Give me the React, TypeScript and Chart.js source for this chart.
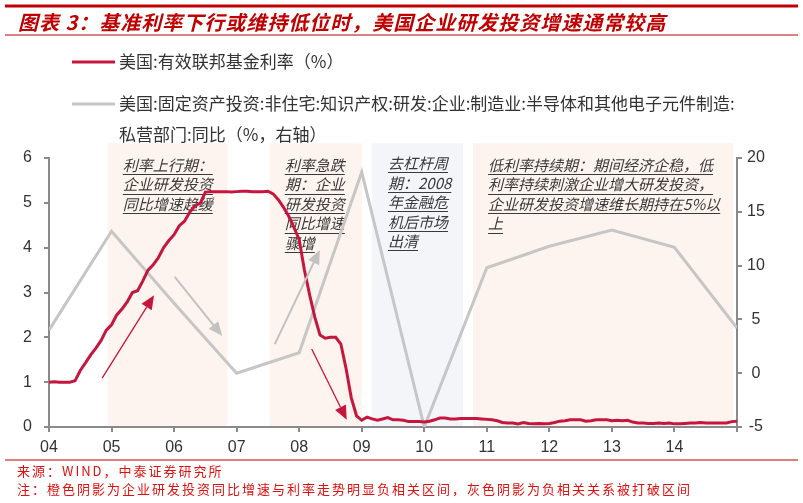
import { useEffect, useRef } from "react";
import { Chart, registerables } from "chart.js";

Chart.register(...registerables);

// 美国有效联邦基金利率，月度，2004-01 ~ 2015-01（%）
const rateValues: number[] = [
  1.0, 1.01, 1.0, 1.0, 1.0, 1.03, 1.26, 1.43, 1.61, 1.76, 1.93, 2.16,
  2.28, 2.5, 2.63, 2.79, 3.0, 3.04, 3.26, 3.5, 3.62, 3.78, 4.0, 4.16,
  4.29, 4.49, 4.59, 4.79, 4.94, 4.99, 5.24, 5.25, 5.25, 5.25, 5.25, 5.24,
  5.25, 5.26, 5.26, 5.25, 5.25, 5.25, 5.26, 5.2, 5.07, 4.9, 4.7, 4.45,
  4.18, 3.5, 2.95, 2.45, 2.05, 1.98, 2.0, 2.0, 1.85, 1.3, 0.65, 0.25,
  0.15, 0.22, 0.18, 0.15, 0.18, 0.21, 0.16, 0.16, 0.15, 0.12, 0.12, 0.12,
  0.11, 0.13, 0.16, 0.2, 0.2, 0.18, 0.18, 0.19, 0.19, 0.19, 0.19, 0.18,
  0.17, 0.16, 0.14, 0.1, 0.09, 0.09, 0.07, 0.1, 0.08, 0.07, 0.08, 0.07,
  0.08, 0.1, 0.13, 0.14, 0.16, 0.16, 0.16, 0.13, 0.14, 0.16, 0.16, 0.16,
  0.14, 0.15, 0.14, 0.15, 0.11, 0.09, 0.09, 0.08, 0.08, 0.09, 0.08, 0.09,
  0.07, 0.07, 0.08, 0.09, 0.09, 0.1, 0.09, 0.09, 0.09, 0.09, 0.09, 0.12,
  0.13,
];
const rateStartYear = 2004;

// 半导体及电子元件制造业私营部门研发投资同比（%，右轴），年度
const rdYears = [2004, 2005, 2006, 2007, 2008, 2009, 2010, 2011, 2012, 2013, 2014, 2015];
const rdValues = [4.0, 13.2, 6.5, 0.0, 1.9, 18.7, -5.0, 9.8, 11.8, 13.3, 11.7, 4.2];

const yearLabels = ["04", "05", "06", "07", "08", "09", "10", "11", "12", "13", "14"];

const titleText = "图表 3：基准利率下行或维持低位时，美国企业研发投资增速通常较高";
const rateLabel = "美国:有效联邦基金利率（%）";
const rdLabelLines = [
  "美国:固定资产投资:非住宅:知识产权:研发:企业:制造业:半导体和其他电子元件制造:",
  "私营部门:同比（%，右轴）",
];
const sourceText = "来源：WIND，中泰证券研究所";
const noteText = "注：橙色阴影为企业研发投资同比增速与利率走势明显负相关区间，灰色阴影为负相关关系被打破区间";

const RED = "#c5163e";
const GREY = "#c6c6c6";
const ORANGE_SHADE = "#fdf4ef";
const GREY_SHADE = "#f3f5f9";

// 阴影区间（年份）
const shades = [
  { from: 2004.94, to: 2006.85, color: ORANGE_SHADE },
  { from: 2007.53, to: 2009.0, color: ORANGE_SHADE },
  { from: 2009.16, to: 2010.62, color: GREY_SHADE },
  { from: 2010.78, to: 2014.94, color: ORANGE_SHADE },
];
const shadeTop = 6.33;

// 图中说明文字（锚点：年份、左轴数值）
const notes = [
  { x: 2005.18, y: 5.84, lines: ["利率上行期：", "企业研发投资", "同比增速趋缓"] },
  { x: 2007.77, y: 5.84, lines: ["利率急跌", "期：企业", "研发投资", "同比增速", "骤增"] },
  { x: 2009.42, y: 5.88, lines: ["去杠杆周", "期：2008", "年金融危", "机后市场", "出清"] },
  {
    x: 2011.02,
    y: 5.84,
    lines: ["低利率持续期：期间经济企稳，低", "利率持续刺激企业增大研发投资，", "企业研发投资增速维长期持在5%以", "上"],
  },
];

// 箭头（年份、左轴数值）
const arrows = [
  { x1: 2004.85, y1: 1.09, x2: 2005.68, y2: 2.94, color: RED, width: 1.3 },
  { x1: 2006.01, y1: 3.35, x2: 2006.77, y2: 2.03, color: "#c2c2c2", width: 2 },
  { x1: 2007.61, y1: 1.85, x2: 2008.33, y2: 3.95, color: "#c2c2c2", width: 2 },
  { x1: 2008.2, y1: 1.74, x2: 2008.76, y2: 0.16, color: RED, width: 1.3 },
];

const CJK = '"Noto Sans CJK SC", "Liberation Sans", sans-serif';

function drawArrow(ctx: CanvasRenderingContext2D, x1: number, y1: number, x2: number, y2: number, color: string, width: number) {
  const ang = Math.atan2(y2 - y1, x2 - x1);
  const headLen = 14;
  const headW = 6;
  const bx = x2 - Math.cos(ang) * headLen;
  const by = y2 - Math.sin(ang) * headLen;
  ctx.strokeStyle = color;
  ctx.fillStyle = color;
  ctx.lineWidth = width;
  ctx.beginPath();
  ctx.moveTo(x1, y1);
  ctx.lineTo(bx, by);
  ctx.stroke();
  ctx.beginPath();
  ctx.moveTo(x2, y2);
  ctx.lineTo(bx + Math.sin(ang) * headW, by - Math.cos(ang) * headW);
  ctx.lineTo(bx - Math.sin(ang) * headW, by + Math.cos(ang) * headW);
  ctx.closePath();
  ctx.fill();
}

const decor = {
  id: "decor",
  beforeDraw(chart: any) {
    const { ctx, scales } = chart;
    const x = scales.x;
    const y = scales.y;
    ctx.save();
    ctx.fillStyle = "#fff";
    ctx.fillRect(0, 0, chart.width, chart.height);
    const top = y.getPixelForValue(shadeTop);
    const bottom = y.getPixelForValue(0);
    shades.forEach((s) => {
      const l = x.getPixelForValue(s.from);
      const r = x.getPixelForValue(s.to);
      ctx.fillStyle = s.color;
      ctx.fillRect(l, top, r - l, bottom - top);
    });
    ctx.restore();
  },
  beforeDatasetsDraw(chart: any) {
    const { ctx, scales } = chart;
    const x = scales.x;
    const y = scales.y;
    ctx.save();
    ctx.font = `italic 15px ${CJK}`;
    ctx.fillStyle = "#3a3a3a";
    ctx.strokeStyle = "#3a3a3a";
    ctx.lineWidth = 1;
    ctx.textAlign = "left";
    ctx.textBaseline = "middle";
    notes.forEach((n) => {
      const px = x.getPixelForValue(n.x);
      const py = y.getPixelForValue(n.y);
      n.lines.forEach((line, i) => {
        const ly = py + i * 19.5;
        ctx.fillText(line, px, ly);
        const w = ctx.measureText(line).width;
        ctx.beginPath();
        ctx.moveTo(px, Math.round(ly + 9) + 0.5);
        ctx.lineTo(px + w, Math.round(ly + 9) + 0.5);
        ctx.stroke();
      });
    });
    ctx.restore();
  },
  afterDatasetsDraw(chart: any) {
    const { ctx, scales } = chart;
    const x = scales.x;
    const y = scales.y;
    ctx.save();
    arrows.forEach((a) =>
      drawArrow(ctx, x.getPixelForValue(a.x1), y.getPixelForValue(a.y1), x.getPixelForValue(a.x2), y.getPixelForValue(a.y2), a.color, a.width)
    );
    ctx.restore();
  },
  afterDraw(chart: any) {
    const { ctx } = chart;
    ctx.save();
    // 标题
    ctx.fillStyle = "#c00000";
    ctx.fillRect(5, 4.5, 793, 3);
    ctx.fillRect(5, 34.5, 793, 1);
    ctx.font = `italic bold 20px ${CJK}`;
    (ctx as any).letterSpacing = "1px";
    ctx.textBaseline = "middle";
    ctx.textAlign = "left";
    ctx.fillText(titleText, 18, 22);
    // 图例
    (ctx as any).letterSpacing = "0px";
    ctx.lineWidth = 3;
    ctx.strokeStyle = RED;
    ctx.beginPath();
    ctx.moveTo(72, 62);
    ctx.lineTo(115, 62);
    ctx.stroke();
    ctx.strokeStyle = GREY;
    ctx.beginPath();
    ctx.moveTo(72, 104);
    ctx.lineTo(115, 104);
    ctx.stroke();
    ctx.font = `17px ${CJK}`;
    ctx.fillStyle = "#333";
    ctx.fillText(rateLabel, 119, 62);
    rdLabelLines.forEach((l, i) => ctx.fillText(l, 119, 104 + i * 31));
    // 脚注
    ctx.fillStyle = "#c00000";
    ctx.fillRect(5, 459.5, 793, 1);
    ctx.fillStyle = "#e01010";
    ctx.font = `13px ${CJK}`;
    (ctx as any).letterSpacing = "2px";
    ctx.fillText(sourceText, 17, 471);
    ctx.fillText(noteText, 17, 489);
    ctx.restore();
  },
};

export default function App() {
  const chartRef = useRef<HTMLCanvasElement>(null);
  const chartInstance = useRef<Chart | null>(null);

  useEffect(() => {
    if (!chartRef.current) return;
    if (chartInstance.current) chartInstance.current.destroy();

    const rateData = rateValues.map((v, i) => ({ x: rateStartYear + i / 12, y: v }));
    const rdData = rdYears.map((yr, i) => ({ x: yr, y: rdValues[i] }));

    const axisColor = "#8a8a8a";
    const tickFont = { family: '"Liberation Sans", Arial, sans-serif', size: 16 };

    chartInstance.current = new Chart(chartRef.current, {
      type: "line",
      data: {
        datasets: [
          {
            label: rateLabel,
            data: rateData,
            yAxisID: "y",
            borderColor: RED,
            backgroundColor: RED,
            borderWidth: 3,
            pointRadius: 0,
            tension: 0,
          },
          {
            label: rdLabelLines.join(""),
            data: rdData,
            yAxisID: "y2",
            borderColor: GREY,
            backgroundColor: GREY,
            borderWidth: 3,
            pointRadius: 0,
            tension: 0,
          },
        ],
      },
      options: {
        animation: false,
        responsive: true,
        maintainAspectRatio: false,
        layout: { padding: { top: 158, left: 0, right: 0, bottom: 0 } },
        plugins: {
          legend: { display: false },
          tooltip: { enabled: false },
        },
        scales: {
          x: {
            type: "linear",
            min: 2004,
            max: 2015,
            afterFit: (s: any) => {
              s.height = 76;
            },
            ticks: {
              stepSize: 1,
              autoSkip: false,
              maxRotation: 0,
              padding: 6,
              color: "#333",
              font: tickFont,
              callback: (v: any) => yearLabels[Math.round(Number(v)) - 2004] ?? "",
            },
            grid: { drawOnChartArea: false, drawTicks: true, tickLength: 5, color: axisColor, lineWidth: 2 },
            border: { display: true, color: axisColor, width: 2 },
          },
          y: {
            position: "left",
            min: 0,
            max: 6,
            afterFit: (s: any) => {
              s.width = 49;
            },
            ticks: { stepSize: 1, padding: 12, color: "#333", font: tickFont },
            grid: { drawOnChartArea: false, drawTicks: true, tickLength: 5, color: axisColor, lineWidth: 2 },
            border: { display: true, color: axisColor, width: 2 },
          },
          y2: {
            position: "right",
            min: -5,
            max: 20,
            afterFit: (s: any) => {
              s.width = 66;
            },
            ticks: { stepSize: 5, padding: 5, crossAlign: "center", color: "#333", font: tickFont },
            grid: { drawOnChartArea: false, drawTicks: true, tickLength: 5, color: axisColor, lineWidth: 2 },
            border: { display: true, color: axisColor, width: 2 },
          },
        },
      },
      plugins: [decor],
    });

    return () => {
      if (chartInstance.current) {
        chartInstance.current.destroy();
        chartInstance.current = null;
      }
    };
  }, []);

  return (
    <div style={{ position: "absolute", left: 0, top: 0, width: 803, height: 503 }}>
      <canvas ref={chartRef}></canvas>
    </div>
  );
}
